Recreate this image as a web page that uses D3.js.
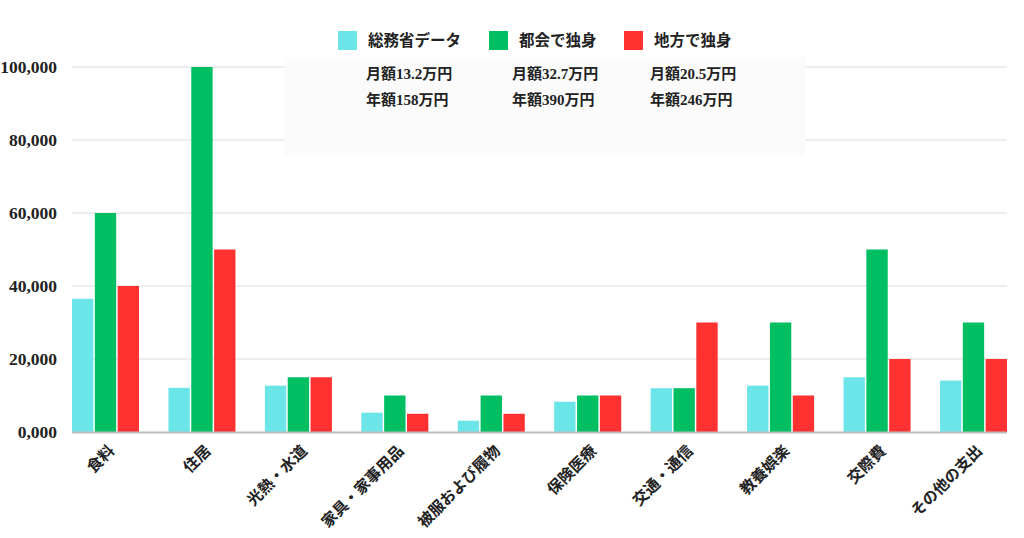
<!DOCTYPE html>
<html><head><meta charset="utf-8">
<script src="https://cdn.jsdelivr.net/npm/d3@7"></script>
<style>
html,body{margin:0;padding:0;background:#fff;}
svg{display:block;}
</style>
</head><body>
<svg id="c" width="1024" height="538"></svg>
<script>
const categories = ["食料","住居","光熱・水道","家具・家事用品","被服および履物","保険医療","交通・通信","教養娯楽","交際費","その他の支出"];
const seriesNames = ["総務省データ","都会で独身","地方で独身"];
const somusho = [36500,12100,12700,5300,3100,8300,12000,12700,15000,14100];
const tokai   = [60000,100000,15000,10000,10000,10000,12000,30000,50000,30000];
const chiho   = [40000,50000,15000,5000,5000,10000,30000,10000,20000,20000];
const seriesColors = ["#6ce5e8","#00bf63","#ff3131"];
const yTicks = [0,20000,40000,60000,80000,100000];
const yTickLabels = ["0,000","20,000","40,000","60,000","80,000","100,000"];
const monthly = ["月額13.2万円","月額32.7万円","月額20.5万円"];
const yearly  = ["年額158万円","年額390万円","年額246万円"];

const seriesValues = [somusho, tokai, chiho];
const svg = d3.select("#c");
const serif = "'Liberation Serif','Noto Sans CJK JP',serif";

const y = d3.scaleLinear().domain([0,100000]).range([432,67]);
const x = d3.scaleBand().domain(categories).range([72,1007]).paddingInner(0.305).paddingOuter(0);
const xs = d3.scaleBand().domain(d3.range(3)).range([0,x.bandwidth()]).paddingInner(0.065);

// gridlines
svg.append("g").selectAll("line").data(yTicks.filter(d=>d>0)).join("line")
  .attr("x1",72).attr("x2",1007).attr("y1",d=>y(d)).attr("y2",d=>y(d))
  .attr("stroke","#dcdcdc").attr("stroke-width",1);

// annotation box (over gridlines)
svg.append("rect").attr("x",284).attr("y",57).attr("width",521).attr("height",99).attr("fill","#fbfbfb");

// bars
const groups = svg.append("g").selectAll("g").data(categories).join("g")
  .attr("transform",d=>`translate(${x(d)},0)`);
groups.selectAll("rect").data((d,i)=>seriesValues.map((s,k)=>({k,v:s[i]}))).join("rect")
  .attr("x",d=>xs(d.k)).attr("width",xs.bandwidth())
  .attr("y",d=>y(d.v)).attr("height",d=>y(0)-y(d.v))
  .attr("fill",d=>seriesColors[d.k]);

// baseline
svg.append("line").attr("x1",72).attr("x2",1007).attr("y1",y(0)+0.5).attr("y2",y(0)+0.5)
  .attr("stroke","#bdbdbd").attr("stroke-width",2);

// y labels
svg.append("g").selectAll("text").data(yTicks).join("text")
  .attr("x",57).attr("y",d=>y(d)).attr("dy","0.35em").attr("text-anchor","end")
  .attr("font-family",serif).attr("font-weight","bold").attr("font-size",17.5).attr("fill","#222")
  .text((d,i)=>yTickLabels[i]);

// x labels
svg.append("g").selectAll("text").data(categories).join("text")
  .attr("transform",d=>`translate(${x(d)+x.bandwidth()/2+6},448) rotate(-45)`)
  .attr("text-anchor","end").attr("dy","0.35em")
  .attr("font-family",serif).attr("font-weight","bold").attr("font-size",15.5).attr("fill","#222")
  .text(d=>d);

// legend
const legX = [338,489,624];
const leg = svg.append("g").selectAll("g").data(seriesNames).join("g")
  .attr("transform",(d,i)=>`translate(${legX[i]},31)`);
leg.append("rect").attr("width",19).attr("height",19).attr("fill",(d,i)=>seriesColors[i]);
leg.append("text").attr("x",30).attr("y",10).attr("dy","0.35em")
  .attr("font-family",serif).attr("font-weight","bold").attr("font-size",15.5).attr("fill","#222")
  .text(d=>d);

// annotation texts
const annX = [366,512,650];
svg.append("g").selectAll("text").data(monthly).join("text")
  .attr("x",(d,i)=>annX[i]).attr("y",79)
  .attr("font-family",serif).attr("font-weight","bold").attr("font-size",15).attr("fill","#222")
  .text(d=>d);
svg.append("g").selectAll("text").data(yearly).join("text")
  .attr("x",(d,i)=>annX[i]).attr("y",105)
  .attr("font-family",serif).attr("font-weight","bold").attr("font-size",15).attr("fill","#222")
  .text(d=>d);
</script>
</body></html>
